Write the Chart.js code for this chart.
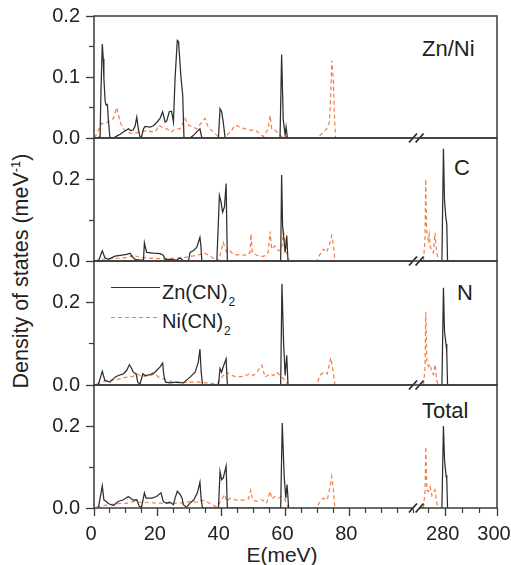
<!DOCTYPE html>
<html><head><meta charset="utf-8">
<script src="https://cdn.jsdelivr.net/npm/chart.js@4.4.1/dist/chart.umd.min.js"></script>
<style>
html,body{margin:0;padding:0;background:#fff;overflow:hidden;}
#wrap{position:relative;width:511px;height:565px;overflow:hidden;background:#fff;font-family:"Liberation Sans",Arial,Helvetica,sans-serif;color:#222;}
#wrap canvas{position:absolute;left:0;}
.lbl{position:absolute;white-space:nowrap;line-height:1;}
.sub{font-size:12px;position:relative;top:7px;margin-left:1px;}
</style></head>
<body><div id="wrap">
<div class="lbl" style="left:422px;top:37.5px;font-size:22px;">Zn/Ni</div>
<div class="lbl" style="left:454px;top:157px;font-size:22px;">C</div>
<div class="lbl" style="left:457px;top:281.5px;font-size:22px;">N</div>
<div class="lbl" style="left:422px;top:399.5px;font-size:22px;">Total</div>
<div style="position:absolute;left:111px;top:287px;width:49px;height:0;border-top:1.2px solid #333;"></div>
<div style="position:absolute;left:111px;top:316.5px;width:49px;height:1.3px;background:repeating-linear-gradient(90deg,#F07F45 0 4px,transparent 4px 7px);"></div>
<div class="lbl" style="left:162px;top:282px;font-size:20px;">Zn(CN)<span class="sub">2</span></div>
<div class="lbl" style="left:162px;top:311px;font-size:20px;">Ni(CN)<span class="sub">2</span></div>
<div class="lbl" style="left:-139px;top:258px;width:320px;height:26px;line-height:26px;text-align:center;font-size:21.5px;transform:rotate(-90deg);">Density of states (meV<span style="font-size:13px;position:relative;top:-8px;">-1</span>)</div>
<div class="lbl" style="left:182px;top:543.5px;width:200px;text-align:center;font-size:21px;">E(meV)</div>
</div>
<script>
// ---------------- data (E in meV, DOS in meV^-1); null separates the two segments of the broken axis
const energy_ZnNi_Zn = [0.8,1.9,2.2,2.6,2.9,3.1,3.5,3.8,4.2,4.5,5.0,6.1,7.1,8.2,9.2,10.2,10.8,11.5,12.3,12.9,13.4,13.9,14.4,14.9,15.5,16.0,17.6,18.6,19.6,20.7,21.5,22.3,22.8,23.6,24.3,24.9,25.4,26.1,26.5,27.2,27.8,28.2,30.1,31.1,32.2,33.2,33.8,39.0,39.5,40.0,40.5,41.1,58.3,58.8,59.3,59.9,60.2,60.6];
const dos_ZnNi_Zn    = [0,0.002,0.08,0.154,0.13,0.097,0.06,0.054,0.055,0.03,0,0,0.003,0.006,0.010,0.013,0.015,0.012,0.013,0.02,0.034,0.015,0.002,0.002,0.015,0.019,0.018,0.020,0.025,0.032,0.043,0.026,0.028,0.043,0.044,0.026,0.097,0.16,0.158,0.103,0.07,0,0,0.004,0.010,0.015,0,0,0.048,0.043,0.026,0,0,0.137,0.03,0.005,0.018,0];
const energy_ZnNi_Ni = [0.3,0.8,1.9,2.4,3.4,5.0,6.1,7.1,8.2,9.2,10.2,12.3,14.4,16.5,18.6,19.6,20.2,21.2,22.8,24.3,25.4,27.0,28.5,29.6,31.1,32.2,33.8,34.8,35.8,37.4,39.0,40.5,41.6,43.2,44.2,45.8,47.3,48.9,50.5,52.0,53.1,54.6,55.2,55.7,56.7,57.8,58.8,60.4,61.0,65.0,69.8,70.8,71.9,72.9,73.8,74.2,74.5,75.0,75.3,75.7];
const dos_ZnNi_Ni    = [0,0.007,0.018,0.024,0.023,0.029,0.032,0.050,0.026,0.015,0.010,0.007,0.010,0.012,0.010,0.013,0.021,0.018,0.015,0.010,0.015,0.015,0.032,0.021,0.018,0.015,0.026,0.032,0.018,0.010,0.002,0,0.004,0.013,0.021,0.018,0.015,0.013,0.013,0.007,0.002,0.015,0.037,0.015,0.013,0.007,0.002,0.002,0,0,0,0.004,0.010,0.015,0.026,0.070,0.127,0.097,0.043,0];

const energy_C_Zn = [0.8,1.4,2.6,3.4,4.5,6.6,8.2,10.2,11.3,11.8,12.9,14.2,15.5,15.8,16.5,18.6,20.7,21.7,22.3,23.8,25.9,27.0,28.0,29.6,30.1,31.1,32.2,33.2,33.5,33.8,38.5,39.3,39.8,40.3,40.9,41.4,41.8,58.5,58.8,59.1,59.9,60.4,60.8,null,278.5,279.1,279.5,280.0,280.4,280.7];
const dos_C_Zn    = [0,0,0.025,0.008,0.004,0.012,0.014,0.016,0.019,0.012,0.004,0.002,0.002,0.044,0.021,0.019,0.018,0.014,0.004,0.004,0.002,0.008,0,0,0.021,0.025,0.033,0.058,0.037,0,0,0.160,0.144,0.119,0.132,0.189,0,0,0.210,0.086,0.021,0.062,0,null,0,0.274,0.15,0.109,0.09,0];
const energy_C_Ni = [0.3,1.9,5.0,9.2,11.8,12.3,13.4,15.5,19.6,23.8,28.0,30.1,32.2,34.8,36.4,37.9,39.0,40.0,40.5,41.6,42.6,43.7,45.8,47.9,48.9,49.2,49.6,51.0,53.1,54.6,55.2,55.7,56.7,57.8,58.8,59.4,60.4,61.2,65.0,69.8,70.8,71.9,72.9,73.8,74.5,75.2,75.5,null,271.3,271.9,272.2,272.5,272.9,273.2,273.6,273.9,274.6,275.2,275.8,276.2,276.5,277.1];
const dos_C_Ni    = [0,0.004,0.006,0.007,0.012,0.016,0.011,0.008,0.006,0.006,0.008,0.011,0.014,0.019,0.012,0.004,0,0.029,0.045,0.021,0.025,0.016,0.015,0.014,0.021,0.066,0.021,0.014,0.011,0.021,0.072,0.029,0.037,0.025,0.029,0.07,0.021,0,0,0,0.016,0.029,0.021,0.041,0.062,0.029,0,null,0,0.05,0.2,0.077,0.06,0.05,0.065,0.037,0.025,0.02,0.069,0.035,0.02,0];

const energy_N_Zn = [1.4,2.6,3.4,5.0,6.6,7.6,9.2,10.2,11.1,11.8,12.3,13.2,13.7,14.4,15.3,16.0,17.6,19.1,20.7,21.5,21.9,22.4,23.8,25.9,28.0,30.1,31.7,32.7,33.2,33.6,34.0,39.0,39.5,40.0,40.5,41.4,41.8,58.5,58.9,59.4,59.9,60.4,60.8,null,278.5,279.1,279.5,280.1,280.4,280.7];
const dos_N_Zn    = [0.002,0.033,0.011,0.007,0.019,0.023,0.027,0.035,0.049,0.040,0.031,0.027,0.007,0.002,0.027,0.023,0.025,0.031,0.044,0.053,0.023,0.007,0.005,0.007,0.005,0.019,0.031,0.056,0.087,0.031,0,0,0.040,0.031,0.044,0.063,0,0,0.245,0.105,0.023,0.072,0,null,0,0.235,0.13,0.099,0.08,0];
const energy_N_Ni = [0.8,4.0,7.1,10.2,12.3,13.4,14.4,16.0,17.6,19.1,20.2,22.3,24.3,27.0,30.1,33.2,35.3,38.5,40.5,41.6,42.6,44.7,46.8,48.9,49.9,51.0,52.6,53.6,55.2,56.2,57.3,58.3,59.4,60.9,65.0,69.8,70.8,71.9,73.1,74.2,74.8,75.5,null,271.3,271.9,272.2,272.6,273.2,273.9,274.6,275.2,275.8,276.5,277.1];
const dos_N_Ni    = [0.002,0.011,0.013,0.019,0.021,0.027,0.023,0.021,0.023,0.027,0.019,0.013,0.008,0.005,0.007,0.007,0.005,0.002,0.023,0.031,0.025,0.019,0.021,0.027,0.023,0.031,0.048,0.019,0.027,0.023,0.031,0.023,0.015,0,0,0,0.023,0.031,0.027,0.066,0.040,0,null,0,0.04,0.177,0.058,0.045,0.05,0.03,0.025,0.05,0.01,0];

const energy_Total_Zn = [1.4,2.6,3.1,3.8,4.5,6.1,7.6,9.2,10.8,11.5,12.3,13.4,14.2,14.9,15.8,16.3,18.1,19.6,21.0,21.7,22.6,23.8,24.9,25.4,26.1,27.0,27.6,28.0,29.0,30.1,31.3,32.4,33.2,33.6,34.0,39.0,39.5,40.0,40.5,41.4,41.8,58.5,59.0,59.6,60.1,60.5,61.0,null,278.5,279.1,279.5,280.1,280.4,280.7];
const dos_Total_Zn    = [0.002,0.054,0.020,0.016,0.011,0.006,0.016,0.020,0.028,0.024,0.019,0.020,0.004,0.002,0.037,0.024,0.024,0.028,0.037,0.016,0.012,0.014,0.008,0.024,0.041,0.033,0.024,0.008,0.002,0.012,0.020,0.037,0.063,0.020,0,0,0.089,0.069,0.073,0.102,0,0,0.207,0.077,0.024,0.057,0,null,0,0.2,0.12,0.08,0.07,0];
const energy_Total_Ni = [0.8,2.9,5.0,8.2,10.8,12.3,13.9,16.5,19.1,21.2,23.8,27.0,29.0,30.1,32.2,34.3,36.4,38.5,40.0,40.9,41.6,42.6,44.7,46.8,48.4,49.1,49.7,51.0,52.6,54.1,55.2,55.7,56.7,57.8,58.8,59.9,60.9,65.0,69.8,70.8,71.9,73.1,73.8,74.5,75.0,75.5,null,271.3,271.9,272.2,272.6,273.2,273.9,274.6,274.9,275.8,276.5,277.1];
const dos_Total_Ni    = [0.002,0.006,0.008,0.011,0.012,0.016,0.014,0.014,0.012,0.012,0.011,0.012,0.014,0.016,0.014,0.019,0.011,0.002,0.020,0.033,0.016,0.024,0.019,0.019,0.022,0.043,0.020,0.016,0.020,0.012,0.041,0.022,0.028,0.024,0.028,0.020,0,0,0,0.016,0.024,0.020,0.045,0.077,0.045,0,null,0,0.04,0.15,0.044,0.04,0.052,0.03,0.034,0.044,0.012,0];

// tick values
const xMajorTicks = [0,20,40,60,80,280,300];
const xMinorTicks = [5,10,15,25,30,35,45,50,55,65,70,75,85,90,95,100,273.33,286.67,293.33];
const yMajorTicksZnNi = [0,0.1,0.2];
const yMinorTicksZnNi = [0.05,0.15];
const yMajorTicks = [0,0.2];
const yMinorTicks = [0.1];

// ---------------- broken x axis mapping
const BREAK_LO = 101, BREAK_HI = 268.5, RIGHT_SCALE = 0.803;
function toU(e){ return e <= BREAK_LO ? e : BREAK_LO + (e - BREAK_HI) * RIGHT_SCALE; }
const U_MAX = toU(300);

function toPoints(E, V){
  const pts = [];
  for (let i = 0; i < Math.min(E.length, V.length); i++){
    if (E[i] === null || V[i] === null){ pts.push({x: toU(E[i-1]) + 0.01, y: null}); }
    else pts.push({x: toU(E[i]), y: V[i]});
  }
  return pts;
}

const FONT = '"Liberation Sans", Arial, Helvetica, sans-serif';
const AXIS = '#3a3a3a';
const ZN_COLOR = '#2e2e2e';
const NI_COLOR = '#F07F45';
const CANVAS_W = 540, PLOT_LEFT = 94, PLOT_RIGHT = 497, PAD = 24, PAGE_H = 565;

const panels = [
  {eZn: energy_ZnNi_Zn, vZn: dos_ZnNi_Zn, eNi: energy_ZnNi_Ni, vNi: dos_ZnNi_Ni, yMax: 0.2, major: yMajorTicksZnNi, minor: yMinorTicksZnNi, top: 16, bottom: 138},
  {eZn: energy_C_Zn, vZn: dos_C_Zn, eNi: energy_C_Ni, vNi: dos_C_Ni, yMax: 0.3, major: yMajorTicks, minor: yMinorTicks, top: 138, bottom: 261},
  {eZn: energy_N_Zn, vZn: dos_N_Zn, eNi: energy_N_Ni, vNi: dos_N_Ni, yMax: 0.3, major: yMajorTicks, minor: yMinorTicks, top: 261, bottom: 385},
  {eZn: energy_Total_Zn, vZn: dos_Total_Zn, eNi: energy_Total_Ni, vNi: dos_Total_Ni, yMax: 0.3, major: yMajorTicks, minor: yMinorTicks, top: 385, bottom: 508}
];

function setTicks(list){ return (scale) => { scale.ticks = list.map(v => ({value: v})); }; }

const framePlugin = {
  id: 'frame',
  afterDatasetsDraw(chart){
    const {ctx, chartArea: a} = chart;
    ctx.save();
    ctx.strokeStyle = AXIS;
    ctx.lineWidth = 1.5;
    ctx.strokeRect(a.left, a.top, a.right - a.left, a.bottom - a.top);
    // axis break marks
    const xb = chart.scales.x.getPixelForValue(BREAK_LO);
    const y = a.bottom;
    ctx.fillStyle = '#fff';
    ctx.beginPath();
    ctx.moveTo(xb - 7.3, y + 4.5); ctx.lineTo(xb + 0.7, y - 4.5);
    ctx.lineTo(xb + 7.3, y - 4.5); ctx.lineTo(xb - 0.7, y + 4.5);
    ctx.closePath();
    ctx.fillRect(xb - 3, y - 1.5, 6, 3);
    ctx.strokeStyle = '#2a2a2a';
    ctx.lineWidth = 1.8;
    ctx.beginPath();
    ctx.moveTo(xb - 7.3, y + 4.5); ctx.lineTo(xb + 0.7, y - 4.5);
    ctx.moveTo(xb - 0.7, y + 4.5); ctx.lineTo(xb + 7.3, y - 4.5);
    ctx.stroke();
    ctx.restore();
  }
};

const wrap = document.getElementById('wrap');
panels.forEach((p, i) => {
  const isBottom = i === panels.length - 1;
  const canvasTop = p.top - PAD;
  const plotH = p.bottom - p.top;
  const canvasH = isBottom ? PAGE_H - canvasTop : plotH + 2 * PAD;
  const xAxisH = isBottom ? PAGE_H - p.bottom : 0;
  const cv = document.createElement('canvas');
  cv.width = CANVAS_W; cv.height = canvasH;
  cv.style.top = canvasTop + 'px';
  cv.style.width = CANVAS_W + 'px'; cv.style.height = canvasH + 'px';
  wrap.appendChild(cv);
  new Chart(cv, {
    type: 'line',
    data: {datasets: [
      {label: 'Zn(CN)2', data: toPoints(p.eZn, p.vZn), borderColor: ZN_COLOR, borderWidth: 1.25, pointRadius: 0, tension: 0, spanGaps: false, xAxisID: 'x', yAxisID: 'y', order: 1},
      {label: 'Ni(CN)2', data: toPoints(p.eNi, p.vNi), borderColor: NI_COLOR, borderWidth: 1.2, borderDash: [4, 3], pointRadius: 0, tension: 0, spanGaps: false, xAxisID: 'x', yAxisID: 'y', order: 2}
    ]},
    options: {
      responsive: false, animation: false, devicePixelRatio: 1, events: [],
      layout: {autoPadding: false, padding: {left: 0, right: CANVAS_W - PLOT_RIGHT, top: PAD, bottom: isBottom ? 0 : PAD}},
      plugins: {legend: {display: false}, tooltip: {enabled: false}},
      scales: {
        x: {type: 'linear', min: 0, max: U_MAX, display: isBottom, position: 'bottom', weight: 10,
            afterBuildTicks: setTicks(xMajorTicks.map(toU)),
            afterFit: (s) => { s.height = xAxisH; },
            grid: {drawOnChartArea: false, drawTicks: true, tickLength: 8, tickWidth: 1.3, tickColor: AXIS},
            border: {display: false},
            ticks: {font: {family: FONT, size: 20}, color: '#222', padding: 6, labelOffset: -3, maxRotation: 0, autoSkip: false,
                    callback: (v) => { const k = xMajorTicks.findIndex(t => Math.abs(toU(t) - v) < 1e-6); return k >= 0 ? String(xMajorTicks[k]) : ''; }}},
        xm: {type: 'linear', min: 0, max: U_MAX, display: isBottom, position: 'bottom', weight: 0,
             afterBuildTicks: setTicks(xMinorTicks.map(toU)),
             afterFit: (s) => { s.height = 0; },
             grid: {drawOnChartArea: false, drawTicks: true, tickLength: 5, tickWidth: 1.2, tickColor: AXIS},
             border: {display: false}, ticks: {display: false}},
        y: {type: 'linear', min: 0, max: p.yMax, position: 'left', weight: 10,
            afterBuildTicks: setTicks(p.major),
            afterFit: (s) => { s.width = PLOT_LEFT; },
            grid: {drawOnChartArea: false, drawTicks: true, tickLength: 8, tickWidth: 1.3, tickColor: AXIS},
            border: {display: false},
            ticks: {font: {family: FONT, size: 20}, color: '#222', padding: 6, autoSkip: false, callback: (v) => Number(v).toFixed(1)}},
        ym: {type: 'linear', min: 0, max: p.yMax, position: 'left', weight: 0,
             afterBuildTicks: setTicks(p.minor),
             afterFit: (s) => { s.width = 0; },
             grid: {drawOnChartArea: false, drawTicks: true, tickLength: 5, tickWidth: 1.2, tickColor: AXIS},
             border: {display: false}, ticks: {display: false}}
      }
    },
    plugins: [framePlugin]
  });
});
</script>
</body></html>
